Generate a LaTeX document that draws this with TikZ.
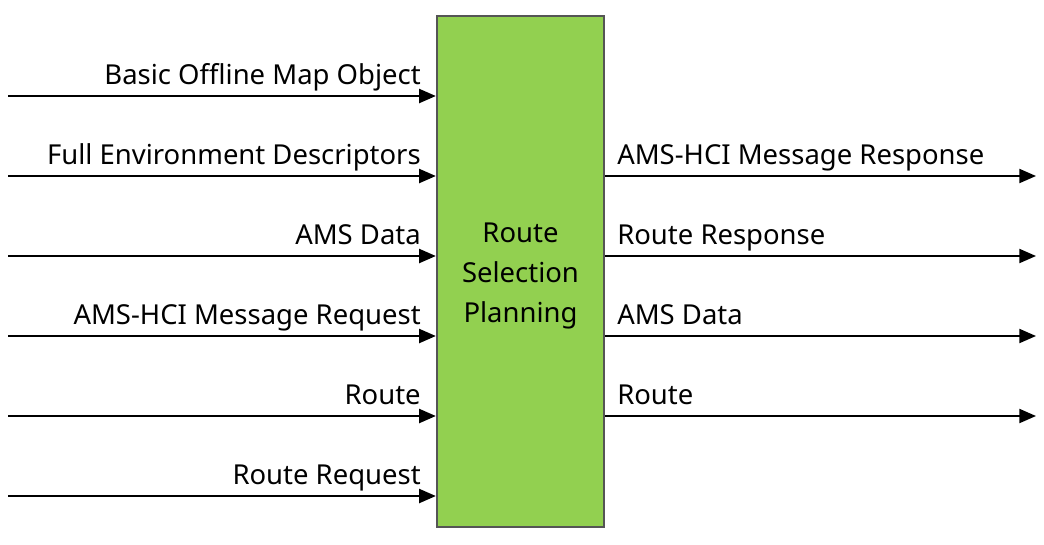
\documentclass[tikz,border=0pt]{standalone}
\usepackage{fontspec}
\setmainfont{Noto Sans}
\usetikzlibrary{positioning,arrows.meta}
\definecolor{cBlock}{HTML}{92D050}
\definecolor{cEdge}{HTML}{555555}

\begin{document}
\begin{tikzpicture}[x=0.75pt, y=-0.75pt, font=\fontsize{20.6}{30}\selectfont,
    flow/.style={line width=1.5pt, -{Triangle[length=12.5pt, width=10.5pt]}},
    lbl/.style={inner sep=0pt, anchor=base east},
    rlbl/.style={inner sep=0pt, anchor=base west}]
  \useasboundingbox (0,0) rectangle (1044,544);
  \node[draw=cEdge, line width=1.75pt, fill=cBlock, minimum width=167*0.75pt,
        minimum height=511*0.75pt, inner sep=0pt] (rsp) at (520.5,271.5) {};
  \node[align=center, inner sep=0pt] (rsptxt) at ([yshift=-3pt]rsp.center)
        {Route\\Selection\\Planning};
  % inputs
  \foreach \y/\txt [count=\i] in {96/Basic Offline Map Object,
      176/Full Environment Descriptors, 256/AMS Data,
      336/AMS-HCI Message Request, 416/Route, 496/Route Request} {
    \coordinate (in\i) at (8,\y);
    \draw[flow] (in\i) -- (in\i -| rsp.west);
    \node[lbl] (inl\i) at (421,\y-12) {\txt};
  }
  % outputs
  \foreach \y/\txt [count=\i] in {176/AMS-HCI Message Response,
      256/Route Response, 336/AMS Data, 416/Route} {
    \coordinate (out\i) at (1036,\y);
    \draw[flow] (out\i -| rsp.east) -- (out\i);
    \node[rlbl] (outl\i) at (617,\y-12) {\txt};
  }
\end{tikzpicture}
\end{document}
